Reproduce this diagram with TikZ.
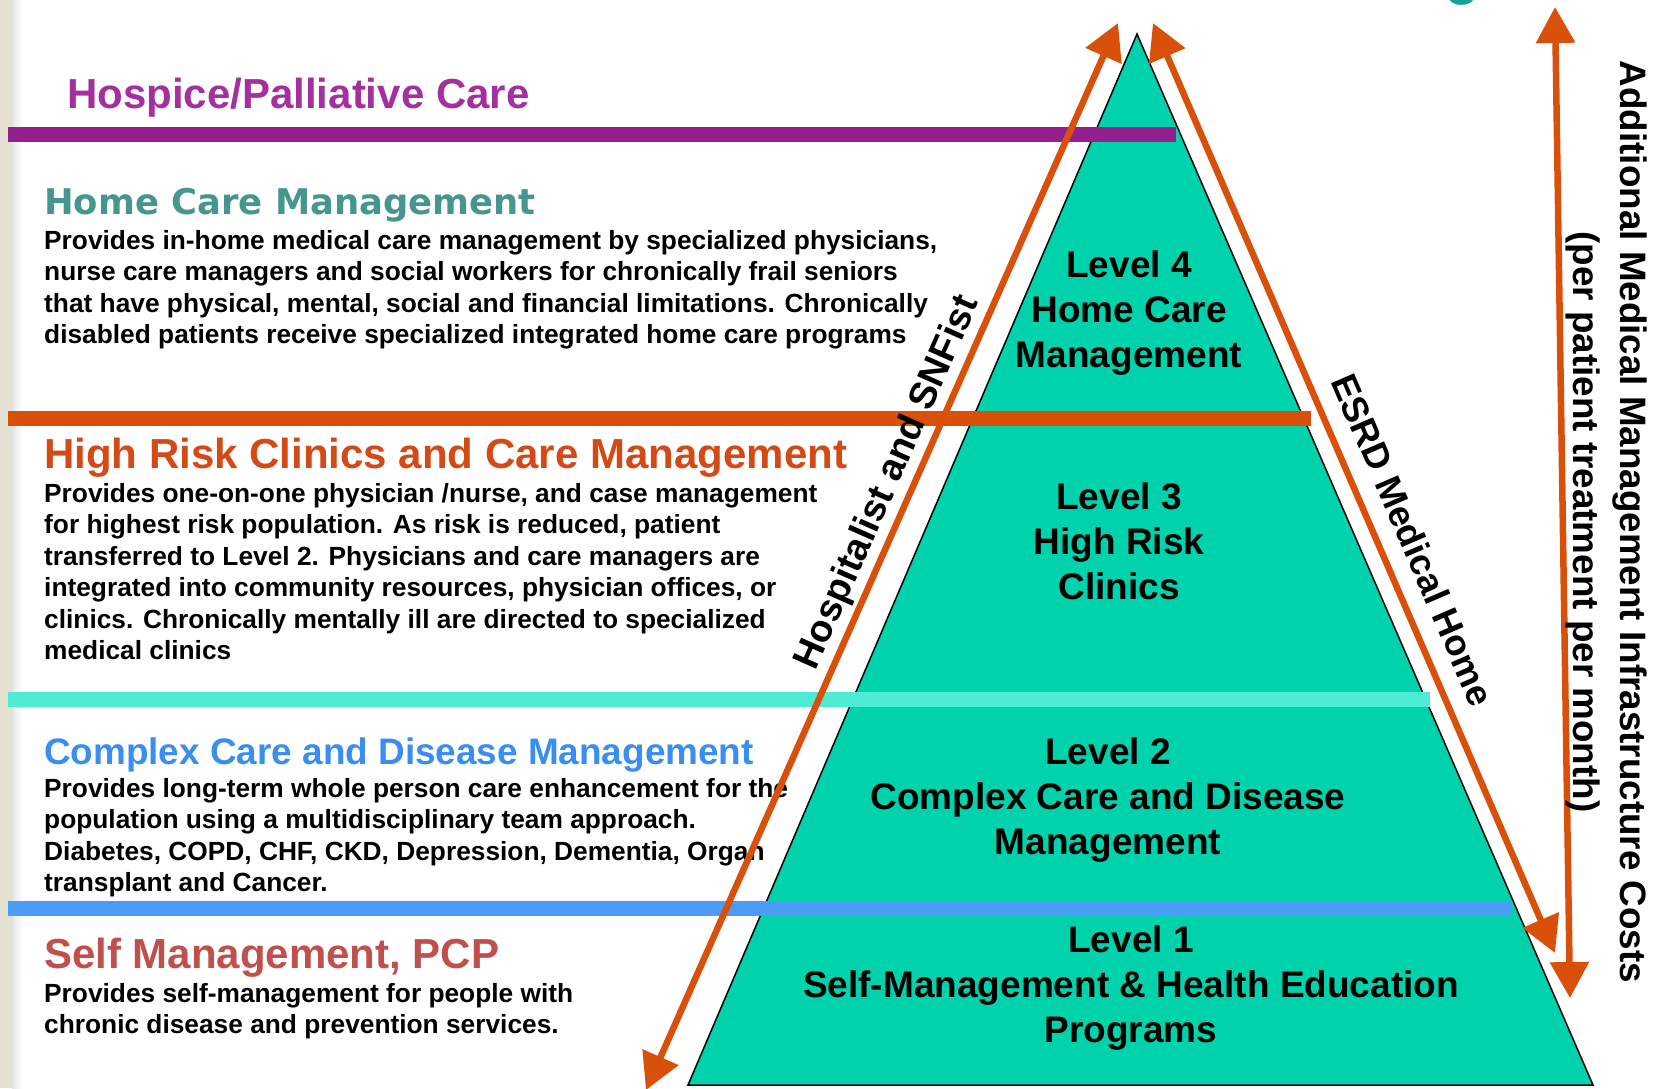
\documentclass[tikz,border=0pt]{standalone}
\usepackage{fontspec}
\setmainfont{Liberation Sans}
\newfontfamily\vfont{DejaVu Sans}
\usetikzlibrary{arrows.meta}

\definecolor{pyr}{HTML}{00D2AB}
\definecolor{barpurple}{HTML}{92208F}
\definecolor{hospice}{HTML}{A4309F}
\definecolor{hometeal}{HTML}{45968F}
\definecolor{barorange}{HTML}{D9500B}
\definecolor{risk}{HTML}{D34A16}
\definecolor{barcyan}{HTML}{4EEBD5}
\definecolor{complex}{HTML}{3A8EF2}
\definecolor{barblue}{HTML}{4A9CF6}
\definecolor{selfred}{HTML}{C0504D}
\definecolor{gtitle}{HTML}{1A9E9A}
\definecolor{strip}{HTML}{E6E2D3}

\begin{document}
\begin{tikzpicture}[x=1pt,y=-1pt,
  bar/.style={line width=15pt},
  head/.style={anchor=base west,inner sep=0pt,font=\bfseries\fontsize{42}{50}\selectfont},
  % multi-line nodes sit on the baseline of their last line
  body/.style={anchor=base west,inner sep=0pt,align=left,font=\bfseries\fontsize{26.3}{31.5}\selectfont},
  level/.style={anchor=base,inner sep=0pt,align=center,font=\bfseries\fontsize{37}{45}\selectfont},
  side/.style={sloped,above,inner sep=3pt,font=\bfseries\fontsize{38}{44}\selectfont},
  cost/.style={draw=barorange,line width=6.5pt,
    arrows={Triangle[length=36pt,width=38pt]-Triangle[length=36pt,width=38pt]}}]
  \useasboundingbox (0,0) rectangle (1660,1088);
  \clip (0,0) rectangle (1660,1088);

  % slide edge
  \fill[strip] (0,0) rectangle (12,1088);
  \shade[left color=black!10,right color=white] (12,0) rectangle (22,1088);
  \node[anchor=base,inner sep=0pt,text=gtitle,font=\bfseries\fontsize{56}{60}\selectfont] (gtail) at (1463,-7) {g};

  % pyramid
  \coordinate (apex) at (1137,34);
  \coordinate (baseL) at (688,1085);
  \coordinate (baseR) at (1593,1085);
  \draw[fill=pyr,line width=1.5pt] (apex) -- (baseR) -- (baseL) -- cycle;

  \foreach \c/\y/\x in {barpurple/134/1176,barorange/418/1311,barcyan/699/1430,barblue/908/1512}
    \draw[bar,draw=\c] (8,\y) -- (\x,\y);

  \node[level] (lvfour) at (1129,367) {Level 4\\Home Care\\Management};
  \node[level] (lvthree) at (1119,599) {Level 3\\High Risk\\Clinics};
  \node[level] (lvtwo) at (1108,854) {Level 2\\Complex Care and Disease\\Management};
  \node[level] (lvone) at (1131,1042) {Level 1\\Self-Management \& Health Education\\Programs};

  % tiers
  \node[head,text=hospice] (hospice) at (67,108) {Hospice/Palliative Care};
  \node[head,text=hometeal,font=\vfont\bfseries\fontsize{35.4}{42}\selectfont] (home) at (44,214) {Home Care Management};
  \node[body] (homebody) at (44,343.5) {Provides in-home medical care management by specialized physicians,\\
    nurse care managers and social workers for chronically frail seniors\\
    that have physical, mental, social and financial limitations. Chronically\\
    disabled patients receive specialized integrated home care programs};
  \node[head,text=risk] (risk) at (44,468) {High Risk Clinics and Care Management};
  \node[body] (riskbody) at (44,659.5) {Provides one-on-one physician /nurse, and case management\\
    for highest risk population. As risk is reduced, patient\\
    transferred to Level 2. Physicians and care managers are\\
    integrated into community resources, physician offices, or\\
    clinics. Chronically mentally ill are directed to specialized\\
    medical clinics};
  \node[head,text=complex,font=\bfseries\fontsize{36.9}{44}\selectfont] (complex) at (44,764) {Complex Care and Disease Management};
  \node[body] (complexbody) at (44,891.5) {Provides long-term whole person care enhancement for the\\
    population using a multidisciplinary team approach.\\
    Diabetes, COPD, CHF, CKD, Depression, Dementia, Organ\\
    transplant and Cancer.};
  \node[head,text=selfred] (self) at (44,968) {Self Management, PCP};
  \node[body] (selfbody) at (44,1033.5) {Provides self-management for people with\\
    chronic disease and prevention services.};

  % arrows
  \coordinate (hospLow) at (646,1090);
  \coordinate (hospTop) at (1118,23);
  \coordinate (esrdTop) at (1153,23);
  \coordinate (esrdLow) at (1555,953);
  \coordinate (costTop) at (1555,7);
  \coordinate (costLow) at (1570,998);
  \draw[cost] (hospLow) -- node[side,pos=0.56] (hosplabel) {Hospitalist and SNFist} (hospTop);
  \draw[cost] (esrdTop) -- node[side,pos=0.57,inner sep=17pt,font=\bfseries\fontsize{36.5}{44}\selectfont] (esrdlabel) {ESRD Medical Home} (esrdLow);
  \draw[cost] (costTop) -- (costLow);
  \node[rotate=-90,align=center,inner sep=0pt,font=\bfseries\fontsize{36.8}{47}\selectfont] (costs) at (1606,522)
    {Additional Medical Management Infrastructure Costs\\(per patient treatment per month)};
\end{tikzpicture}
\end{document}
